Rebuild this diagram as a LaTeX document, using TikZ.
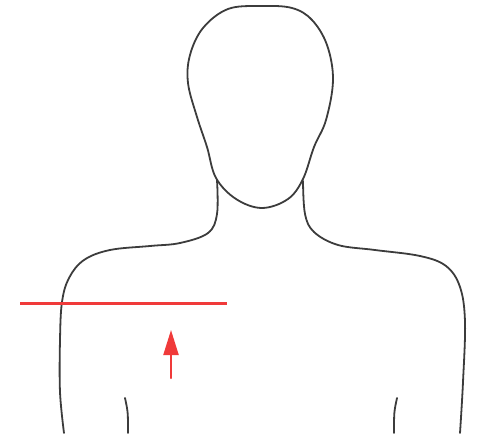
\documentclass[tikz,border=0pt]{standalone}
\usetikzlibrary{arrows.meta}
\definecolor{outline}{HTML}{3C3C3C}
\definecolor{measurered}{HTML}{F03A3A}

\begin{document}
\begin{tikzpicture}[x=1pt,y=-1pt,line cap=round,line join=round]
\useasboundingbox (0,0) rectangle (478,438);
% head
\draw[outline,line width=1.8pt] plot[smooth cycle,tension=0.6] coordinates {
  (262,208) (236,199) (216,178) (207,147) (197,117) (188,83) (190,55) (203,28)
  (228,9) (261,6) (292,8) (312,20) (327,45) (333,80) (326,120) (314,147)
  (303,179) (288,199)};
% neck and shoulders, left
\draw[outline,line width=1.8pt] plot[smooth,tension=0.6] coordinates {
  (217,180) (217,214) (208,233) (180,243) (150,246) (110,250) (84,260)
  (69,278) (62,302) (60,340) (60,392) (64,433)};
% neck and shoulders, right
\draw[outline,line width=1.8pt] plot[smooth,tension=0.6] coordinates {
  (303,181) (305,214) (314,232) (338,245) (375,250) (420,256) (446,266)
  (460,287) (465,322) (463,382) (460,433)};
% armpits
\draw[outline,line width=1.8pt] (125,398) .. controls (128,412) .. (128,433);
\draw[outline,line width=1.8pt] (397,398) .. controls (394,412) .. (394,433);
% measuring line and arrow
\coordinate (lineL) at (20,303);
\coordinate (lineR) at (227,303);
\draw[measurered,line width=3pt,line cap=butt] (lineL) -- (lineR);
\coordinate (tail) at (171,378);
\coordinate (tip) at (171,330);
\draw[measurered,line width=2.2pt,-{Triangle[width=15pt,length=25pt]}] (tail) -- (tip);
\end{tikzpicture}
\end{document}
